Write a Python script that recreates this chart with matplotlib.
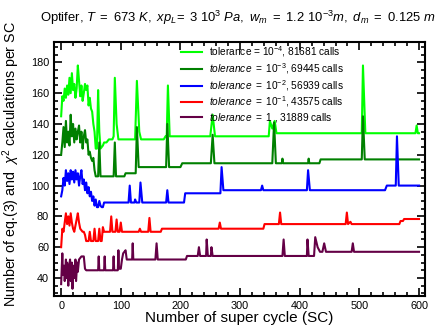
import matplotlib
matplotlib.use("Agg")
import matplotlib.pyplot as plt
from matplotlib.ticker import MultipleLocator

plt.rcParams['font.family'] = ['Liberation Sans', 'DejaVu Sans']
plt.rcParams['mathtext.fontset'] = 'custom'
plt.rcParams['mathtext.rm'] = 'Liberation Sans'
plt.rcParams['mathtext.it'] = 'Liberation Sans:italic'

# --- data (super cycle, calls per SC) ---
x_tol4 = [0, 2, 4, 6, 8, 10, 12, 14, 16, 18, 20, 22, 24, 26, 28, 30, 32, 34, 36, 38,
          40, 42, 44, 46, 48, 50, 52, 54, 56, 58, 60, 62, 64, 66, 70, 72, 76, 80, 86, 88,
          90, 93, 96, 124, 127, 131, 134, 172, 175, 177, 179, 182, 250, 254, 258, 348,
          350, 354, 358, 361, 504, 506, 510, 594, 596, 598, 600]
y_tol4 = [145, 158, 155, 163, 157, 165, 159, 170, 160, 173, 162, 166, 157, 163, 178, 168, 158, 165, 155, 160,
          166, 162, 165, 152, 157, 150, 148, 140, 135, 124, 124, 162, 135, 124, 126, 128, 128, 130, 130, 132,
          170, 140, 130, 130, 168, 135, 130, 130, 132, 132, 165, 132, 132, 146, 132, 132,
          142, 137, 142, 134, 134, 178, 134, 134, 139, 134, 134]

x_tol3 = [0, 2, 4, 6, 8, 10, 12, 14, 16, 18, 20, 22, 24, 26, 28, 30, 32, 34, 36, 38,
          40, 42, 44, 46, 48, 50, 52, 54, 56, 58, 62, 64, 66, 88, 90, 92, 106, 108, 125, 127,
          130, 176, 178, 181, 200, 203, 251, 254, 257, 354, 357, 360, 370, 371, 372, 414,
          415, 416, 433, 435, 504, 506, 509, 600]
y_tol3 = [120, 128, 138, 125, 142, 128, 135, 126, 146, 132, 140, 128, 137, 130, 135, 139, 128, 135, 124, 132,
          136, 128, 130, 120, 122, 118, 116, 118, 110, 106, 106, 128, 106, 106, 128, 106, 106, 108, 108, 138,
          112, 112, 140, 112, 112, 114.5, 114.5, 133, 114.5, 114.5, 141, 114.5, 114.5, 117.5, 114.5, 114.5,
          117.5, 114.5, 114.5, 117, 117, 145, 117, 117]

x_tol2 = [0, 2, 4, 6, 8, 10, 12, 14, 16, 18, 20, 22, 24, 26, 28, 30, 32, 34, 36, 38,
          40, 42, 44, 46, 48, 50, 52, 54, 56, 58, 60, 62, 64, 66, 68, 70, 72, 113, 115, 117,
          123, 124, 126, 131, 133, 136, 176, 178, 180, 206, 208, 267, 269, 272, 335, 337,
          339, 412, 414, 417, 543, 546, 561, 563, 566, 600]
y_tol2 = [93, 97, 105, 100, 110, 103, 108, 101, 110, 104, 109, 102, 110, 104, 108, 100, 106, 110, 101, 104,
          97, 102, 95, 99, 93, 96, 90, 93, 87, 91, 86, 86, 90, 87, 86, 86, 89, 89, 100, 89,
          89, 91, 89, 89, 102, 89, 89, 97, 89, 89, 95, 95, 112, 97, 97, 100,
          97, 97, 110, 97, 97, 100, 100, 132, 100, 100]

x_tol1 = [0, 2, 4, 6, 8, 10, 12, 14, 16, 18, 20, 22, 24, 26, 28, 30, 32, 34, 36, 38,
          40, 42, 46, 48, 50, 54, 56, 58, 62, 64, 66, 68, 70, 72, 82, 84, 86, 91, 93, 95,
          98, 100, 102, 130, 132, 134, 146, 148, 150, 167, 169, 264, 266, 268, 339, 341,
          365, 367, 369, 477, 479, 481, 485, 487, 567, 569, 573, 575, 600]
y_tol1 = [60, 72, 70, 76, 82, 75, 80, 74, 82, 76, 72, 70, 74, 78, 82, 76, 72, 71, 70, 70,
          68, 64, 64, 70, 64, 64, 72, 64, 64, 72, 64, 64, 73, 70, 70, 80, 70, 70, 78, 70,
          70, 76, 70, 70, 72, 70, 70, 79, 70, 70, 72, 72, 76, 72, 72, 75,
          75, 82.5, 75, 75, 82.5, 75, 76.5, 75, 75, 77, 77, 78.3, 78.3]

x_tol0 = [0, 2, 3, 5, 6, 8, 9, 10, 12, 13, 15, 16, 18, 19, 21, 22, 24, 25, 27, 28,
          30, 32, 34, 36, 38, 40, 42, 62, 63, 64, 72, 73, 74, 87, 88, 89, 95, 96, 97, 100,
          102, 104, 106, 108, 110, 119, 120, 121, 158, 160, 162, 209, 211, 229, 231, 233,
          243, 244, 246, 251, 252, 254, 371, 373, 375, 412, 413, 415, 424, 426, 430, 434,
          438, 441, 444, 487, 489, 491, 600]
y_tol0 = [36, 56, 42, 48, 38, 52, 40, 50, 35, 47, 52, 38, 50, 33, 48, 40, 52, 38, 50, 44,
          52, 53, 54, 54, 54, 46, 45, 45, 54, 45, 45, 54, 45, 45, 54, 45, 45, 58, 46, 46,
          52, 56, 57, 58, 52, 52, 62.5, 52, 52, 62.5, 52, 52, 54.3, 54.3, 60, 54.3,
          54.3, 65, 54.3, 54.3, 60, 54.3, 54.3, 65, 54.3, 54.3, 65, 54.3, 54.3, 66.5, 60, 57,
          57, 62.5, 57, 57, 62.5, 57, 57]

labels = [r"tolerance = 10$^{-4}$, 81681 calls",
          r"$\mathit{tolerance\ =\ 10^{-3}}$, 69445 calls",
          r"$\mathit{tolerance\ =\ 10^{-2}}$, 56939 calls",
          r"$\mathit{tolerance\ =\ 10^{-1}}$, 43575 calls",
          r"$\mathit{tolerance\ =\ 1}$ , 31889 calls"]
colors = ['#00ff00', '#008000', '#0000ff', '#ff0000', '#640046']

fig = plt.figure(figsize=(4.41, 3.26), dpi=100)
ax = fig.add_axes([0.1224, 0.092, 0.8413, 0.779])

series = [(x_tol4, y_tol4), (x_tol3, y_tol3), (x_tol2, y_tol2),
          (x_tol1, y_tol1), (x_tol0, y_tol0)]
for (xs, ys), c, lab in zip(series, colors, labels):
    ax.plot(xs, ys, color=c, lw=1.5, label=lab)

ax.set_xlim(-12, 610)
ax.set_ylim(28.3, 193.2)
ax.xaxis.set_major_locator(MultipleLocator(100))
ax.xaxis.set_minor_locator(MultipleLocator(20))
ax.yaxis.set_major_locator(MultipleLocator(20))
ax.yaxis.set_minor_locator(MultipleLocator(5))
ax.tick_params(which='both', direction='in', top=True, right=True, labelsize=7.8, width=1.2)
ax.tick_params(which='major', length=6)
ax.tick_params(which='minor', length=3)
for s in ax.spines.values():
    s.set_linewidth(1.5)

ax.set_xlabel("Number of super cycle (SC)", fontsize=11, labelpad=0)
ax.set_ylabel(r"Number of eq.(3) and  $\chi^2$ calculations per SC", fontsize=10.3)
ax.yaxis.set_label_coords(-0.085, 0.52)
fig.text(0.54, 0.945,
         r"Optifer, $\mathit{T\ =\ 673\ K,\ xp_L\!=\ 3\ 10^3\ Pa,\ w_m\ =\ 1.2\ 10^{-3}m,\ d_m\ =\ 0.125\ m}$",
         fontsize=9.4, ha='center', va='center')

ax.legend(loc='upper left', bbox_to_anchor=(0.33, 1.01), frameon=False, fontsize=7.3,
          handlelength=2.0, handletextpad=0.7, labelspacing=0.18, borderpad=0)

fig.savefig("out.png", dpi=100)
